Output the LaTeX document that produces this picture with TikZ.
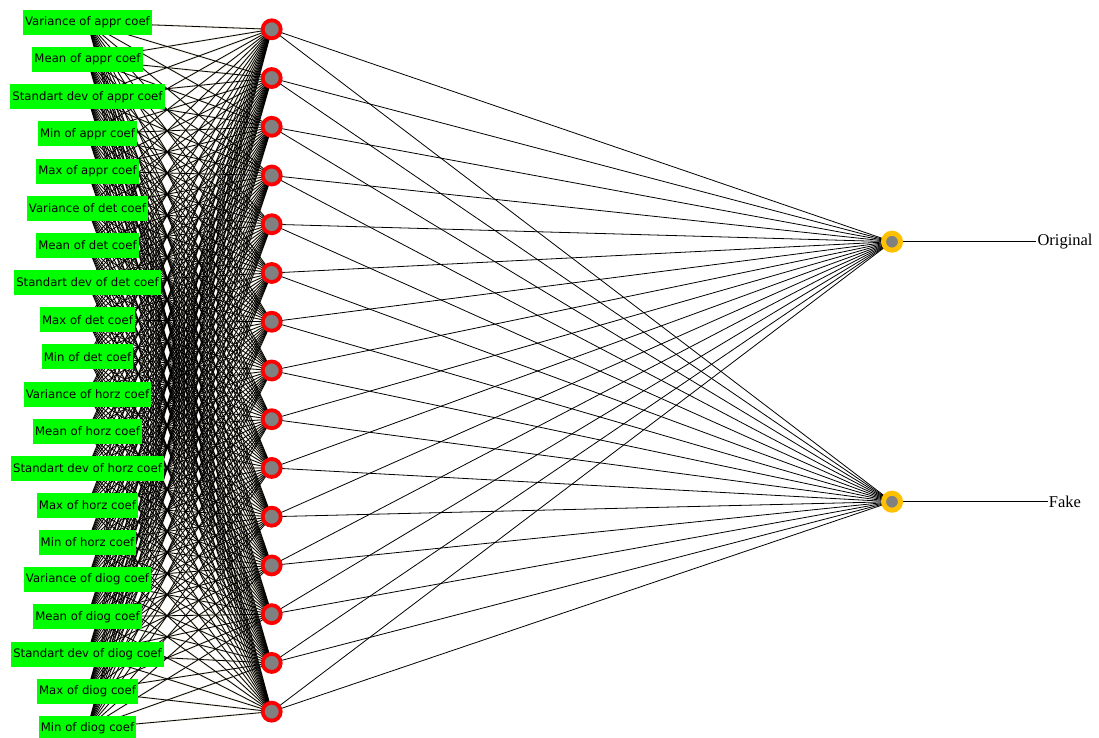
\documentclass[tikz,border=0pt]{standalone}
\usepackage{fontspec}
\setmainfont{Liberation Serif}
\newfontfamily\featfont{DejaVu Sans}
\usetikzlibrary{backgrounds}
\definecolor{boxgreen}{RGB}{0,255,0}
\definecolor{ringorange}{RGB}{255,192,0}
\definecolor{linkhalo}{RGB}{236,233,216}
\begin{document}
\begin{tikzpicture}[x=1pt, y=-1pt,
	feature/.style={fill=boxgreen, inner xsep=2pt, inner ysep=0pt, minimum height=25pt, font=\featfont\fontsize{11.7}{12}\selectfont},
	hidden/.style={circle, draw=red, line width=3.8pt, fill=gray, minimum size=18pt, inner sep=0pt},
	outnode/.style={circle, draw=ringorange, line width=5pt, fill=gray, minimum size=17pt, inner sep=0pt},
	outlabel/.style={inner sep=1pt, font=\fontsize{16.5}{18}\selectfont},
	link/.style={line width=0.8pt},
	halo/.style={draw=linkhalo, line width=1.8pt}]
	\useasboundingbox (0,0) rectangle (1099,738);
	% Input features
	\foreach \txt [count=\i] in {Variance of appr coef, Mean of appr coef, Standart dev of appr coef, Min of appr coef, Max of appr coef,
		Variance of det coef, Mean of det coef, Standart dev of det coef, Max of det coef, Min of det coef,
		Variance of horz coef, Mean of horz coef, Standart dev of horz coef, Max of horz coef, Min of horz coef,
		Variance of diog coef, Mean of diog coef, Standart dev of diog coef, Max of diog coef, Min of diog coef} {
		\node[feature] (in\i) at (87.5, {22.5+37.15*(\i-1)}) {\txt};
	}
	% Hidden layer
	\foreach \j in {1, ..., 15} {
		\node[hidden] (h\j) at (271.7, {29.3+48.74*(\j-1)}) {};
	}
	% Output layer
	\node[outnode] (o1) at (892, 241.7) {};
	\node[outnode] (o2) at (892, 501.7) {};
	\node[outlabel] (orig) at (1065, 241.7) {Original};
	\node[outlabel] (fake) at (1065, 501.7) {Fake};
	% Connections
	\begin{scope}[on background layer]
		\foreach \i in {1, ..., 20} {
			\foreach \j in {1, ..., 15} {
				\draw[halo] (in\i.center) -- (h\j.center);
			}
		}
		\foreach \i in {1, ..., 20} {
			\foreach \j in {1, ..., 15} {
				\draw[link] (in\i.center) -- (h\j.center);
			}
		}
		\foreach \j in {1, ..., 15} {
			\draw[link] (h\j.center) -- (o1.center);
			\draw[link] (h\j.center) -- (o2.center);
		}
		\draw[link] (o1) -- (orig);
		\draw[link] (o2) -- (fake);
	\end{scope}
\end{tikzpicture}
\end{document}
